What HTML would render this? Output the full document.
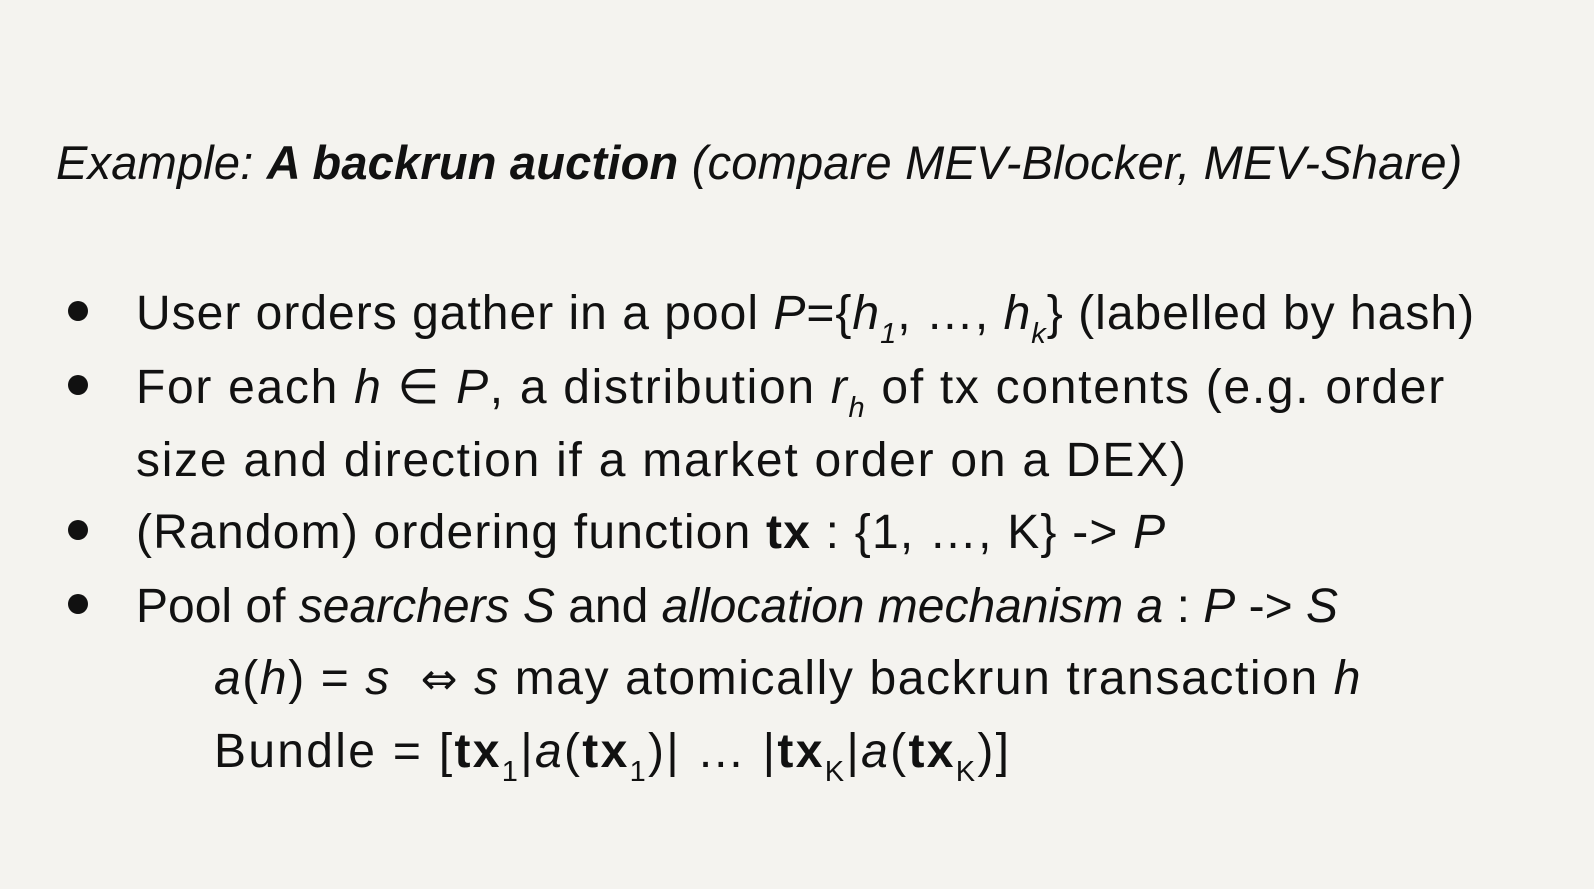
<!DOCTYPE html>
<html><head><meta charset="utf-8"><style>
html,body{margin:0;padding:0}
body{width:1594px;height:889px;background:#f4f3ef;position:relative;overflow:hidden;font-family:"Liberation Sans","DejaVu Sans",sans-serif;color:#111}
.l{position:absolute;white-space:nowrap;font-size:48px;line-height:1;letter-spacing:1px}
.t{font-size:47px;font-style:italic;letter-spacing:0.2px}
.d{position:absolute;left:68px;width:20px;height:20px;border-radius:50%;background:#111}
sub{font-size:29px;vertical-align:-14px;line-height:0}
i{font-style:italic}
.ar{font-family:"DejaVu Sans",sans-serif;font-size:44px}
</style></head><body>
<div class="l t" style="left:56px;top:139px">Example: <b>A backrun auction</b> (compare MEV-Blocker, MEV-Share)</div>

<div class="d" style="top:301px"></div>
<div class="l" style="left:136px;top:290px">User orders gather in a pool <i>P</i>={<i>h<sub>1</sub></i>, …, <i>h<sub>k</sub></i>} (labelled by hash)</div>
<div class="d" style="top:375px"></div>
<div class="l" style="left:136px;top:364px;letter-spacing:1.7px">For each <i>h</i> ∈ <i>P</i>, a distribution <i>r<sub>h</sub></i> of tx contents (e.g. order</div>
<div class="l" style="left:136px;top:437px;letter-spacing:1.75px">size and direction if a market order on a DEX)</div>
<div class="d" style="top:520px"></div>
<div class="l" style="left:136px;top:509px;letter-spacing:1.2px">(Random) ordering function <b>tx</b> : {1, …, K} -&gt; <i>P</i></div>
<div class="d" style="top:594px"></div>
<div class="l" style="left:136px;top:583px;letter-spacing:0px">Pool of <i>searchers S</i> and <i>allocation mechanism a</i> : <i>P</i> -&gt; <i>S</i></div>
<div class="l" style="left:214px;top:655px;letter-spacing:1.6px"><i>a</i>(<i>h</i>) = <i>s</i> &nbsp;<span class="ar">⇔</span> <i>s</i> may atomically backrun transaction <i>h</i></div>
<div class="l" style="left:214px;top:728px;letter-spacing:2.3px">Bundle = [<b>tx</b><sub>1</sub>|<i>a</i>(<b>tx</b><sub>1</sub>)| … |<b>tx</b><sub>K</sub>|<i>a</i>(<b>tx</b><sub>K</sub>)]</div>
</body></html>
